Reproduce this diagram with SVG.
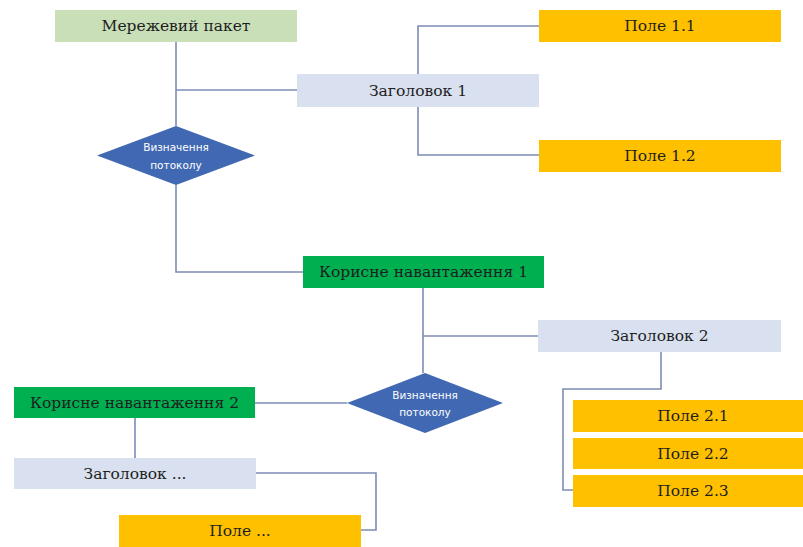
<svg xmlns="http://www.w3.org/2000/svg" width="803" height="547" viewBox="0 0 803 547">
<style>
.lbl{font-family:"DejaVu Serif","Liberation Serif",serif;font-size:15.5px;fill:#1e1e1e;text-anchor:middle;dominant-baseline:central}
.dl{font-family:"DejaVu Sans","Noto Sans",sans-serif;font-size:10.5px;fill:#ffffff;text-anchor:middle;dominant-baseline:central}
.pk{fill:#C8DFB8}
.hd{fill:#D9E0EF}
.fd{fill:#FFC000}
.pl{fill:#00B050}
.dm{fill:#4169B3}
.cn{fill:none;stroke:#7D8CB5;stroke-width:1.6}
</style>
<rect width="803" height="547" fill="#ffffff"/>
<g id="connectors">
<polyline class="cn" points="176,42 176,126"/>
<polyline class="cn" points="176,90 297,90"/>
<polyline class="cn" points="539,26 418,26 418,155 539,155"/>
<polyline class="cn" points="176,185 176,272 303,272"/>
<polyline class="cn" points="423,288 423,373"/>
<polyline class="cn" points="423,336 538,336"/>
<polyline class="cn" points="661,352 661,389 563,389 563,490 573,490"/>
<polyline class="cn" points="255,403 347,403"/>
<polyline class="cn" points="135,418 135,458"/>
<polyline class="cn" points="256,473 376,473 376,530 361,530"/>
</g>
<g id="packet"><rect class="pk" x="55" y="10" width="242" height="32"/><text class="lbl" x="176" y="26">Мережевий пакет</text></g>
<g id="header1"><rect class="hd" x="297" y="74" width="242" height="33"/><text class="lbl" x="418" y="90.5">Заголовок 1</text></g>
<g id="field11"><rect class="fd" x="539" y="10" width="242" height="32"/><text class="lbl" x="660" y="26">Поле 1.1</text></g>
<g id="field12"><rect class="fd" x="539" y="140" width="242" height="32"/><text class="lbl" x="660" y="156">Поле 1.2</text></g>
<g id="decision1"><polygon class="dm" points="176,126 255,155.5 176,185 97,155.5"/><text class="dl" x="176" y="147">Визначення</text><text class="dl" x="176" y="165">потоколу</text></g>
<g id="payload1"><rect class="pl" x="303" y="256" width="241" height="32"/><text class="lbl" x="423.5" y="272">Корисне навантаження 1</text></g>
<g id="header2"><rect class="hd" x="538" y="320" width="243" height="32"/><text class="lbl" x="659.5" y="336">Заголовок 2</text></g>
<g id="decision2"><polygon class="dm" points="425,373 503,403 425,433 347,403"/><text class="dl" x="425" y="395">Визначення</text><text class="dl" x="425" y="412">потоколу</text></g>
<g id="field21"><rect class="fd" x="573" y="400" width="240" height="32"/><text class="lbl" x="693" y="416">Поле 2.1</text></g>
<g id="field22"><rect class="fd" x="573" y="438" width="240" height="31"/><text class="lbl" x="693" y="453.5">Поле 2.2</text></g>
<g id="field23"><rect class="fd" x="573" y="475" width="240" height="32"/><text class="lbl" x="693" y="491">Поле 2.3</text></g>
<g id="payload2"><rect class="pl" x="14" y="387" width="241" height="31"/><text class="lbl" x="134.5" y="402.5">Корисне навантаження 2</text></g>
<g id="headerN"><rect class="hd" x="14" y="458" width="242" height="31"/><text class="lbl" x="135" y="473.5">Заголовок ...</text></g>
<g id="fieldN"><rect class="fd" x="119" y="515" width="242" height="34"/><text class="lbl" x="240" y="531">Поле ...</text></g>
</svg>
